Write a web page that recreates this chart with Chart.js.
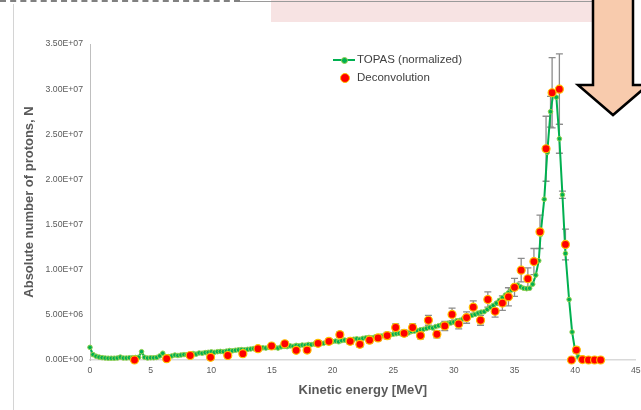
<!DOCTYPE html>
<html>
<head>
<meta charset="utf-8">
<script src="https://cdn.jsdelivr.net/npm/chart.js@4/dist/chart.umd.min.js"></script>
<style>
    body { margin: 0; background: #fff; font-family: "Liberation Sans", Arial, sans-serif; }
    #wrap { position: relative; width: 641px; height: 410px; overflow: hidden; }
    #wrap canvas { position: absolute; left: 0; top: 0; }
    .deco { position: absolute; }
    .legend { position: absolute; left: 333px; top: 50px; font-size: 11.5px; color: #404040; }
    .legend div { position: relative; height: 18px; line-height: 18px; padding-left: 24px; }
</style>
</head>
<body>
<div id="wrap">
    <!-- slide decorations around the chart -->
    <div class="deco" style="left:271px;top:0;width:322px;height:22px;background:#f7e3e3;"></div>
    <div class="deco" style="left:0;top:0;width:240px;height:0;border-top:2px dashed #808080;"></div>
    <div class="deco" style="left:240px;top:1px;width:353px;height:1px;background:#9a9a9a;"></div>
    <div class="deco" style="left:13px;top:4px;width:1px;height:406px;background:#d4d4d4;"></div>
    <svg class="deco" style="left:0;top:0;" width="641" height="410">
        <polygon points="593,-5 633,-5 633,85 648,85 613,115 578,85 593,85" fill="#f8cbad" stroke="#000" stroke-width="2.5"/>
    </svg>

    <canvas id="protonChart" width="641" height="410"></canvas>

    <div class="legend">
        <div>
            <span style="position:absolute;left:0;top:9px;width:22px;height:2px;background:#00b050;"></span>
            <span style="position:absolute;left:8px;top:7px;width:5px;height:5px;border-radius:50%;background:#00b050;border:1px solid #92d050;"></span>
            TOPAS (normalized)
        </div>
        <div>
            <span style="position:absolute;left:7px;top:5px;width:8px;height:8px;border-radius:50%;background:#ff0000;border:1px solid #ffc000;"></span>
            Deconvolution
        </div>
    </div>
</div>

<script>
// ---------------- Data ----------------
// TOPAS simulated spectrum (kinetic energy in MeV, counts in millions)
const topasEnergy = [
    0, 0.25, 0.5, 0.75, 1, 1.25, 1.5, 1.75, 2, 2.25, 2.5, 2.75, 3, 3.25, 3.5, 3.75,
    4, 4.25, 4.5, 4.75, 5, 5.25, 5.5, 5.75, 6, 6.25, 6.5, 6.75, 7, 7.25, 7.5, 7.75,
    8, 8.25, 8.5, 8.75, 9, 9.25, 9.5, 9.75, 10, 10.25, 10.5, 10.75, 11, 11.25, 11.5, 11.75,
    12, 12.25, 12.5, 12.75, 13, 13.25, 13.5, 13.75, 14, 14.25, 14.5, 14.75, 15, 15.25, 15.5, 15.75,
    16, 16.25, 16.5, 16.75, 17, 17.25, 17.5, 17.75, 18, 18.25, 18.5, 18.75, 19, 19.25, 19.5, 19.75,
    20, 20.25, 20.5, 20.75, 21, 21.25, 21.5, 21.75, 22, 22.25, 22.5, 22.75, 23, 23.25, 23.5, 23.75,
    24, 24.25, 24.5, 24.75, 25, 25.25, 25.5, 25.75, 26, 26.25, 26.5, 26.75, 27, 27.25, 27.5, 27.75,
    28, 28.25, 28.5, 28.75, 29, 29.25, 29.5, 29.75, 30, 30.25, 30.5, 30.75, 31, 31.25, 31.5, 31.75,
    32, 32.25, 32.5, 32.75, 33, 33.25, 33.5, 33.75, 34, 34.25, 34.5, 34.75, 35, 35.25, 35.5, 35.75,
    36, 36.25, 36.5, 36.75, 37, 37.15, 37.45, 37.7, 37.97, 38.2, 38.45, 38.7, 38.95, 39.2, 39.5, 39.75,
    40, 40.25, 40.5, 40.75, 41
];
const topasCountsM = [
    1.4, 0.6, 0.42, 0.32, 0.26, 0.22, 0.2, 0.2, 0.2, 0.22, 0.32, 0.22, 0.22, 0.25, 0.25, 0.28,
    0.3, 0.92, 0.3, 0.22, 0.25, 0.25, 0.28, 0.45, 0.75, 0.35, 0.38, 0.45, 0.55, 0.5, 0.55, 0.6,
    0.58, 0.6, 0.72, 0.65, 0.78, 0.75, 0.82, 0.85, 0.9, 0.85, 0.92, 0.95, 0.92, 0.98, 1.05, 1.02,
    1.08, 1.12, 1.15, 1.12, 1.18, 1.22, 1.26, 1.25, 1.3, 1.35, 1.32, 1.4, 1.45, 1.38, 1.32, 1.45,
    1.5, 1.48, 1.56, 1.52, 1.62, 1.58, 1.66, 1.64, 1.72, 1.7, 1.78, 1.82, 1.88, 1.85, 1.95, 2.0,
    2.05, 2.1, 2.02, 2.15, 2.2, 2.15, 2.25, 2.3, 2.35, 2.3, 2.4, 2.45, 2.5, 2.45, 2.55, 2.6,
    2.65, 2.7, 2.75, 2.8, 2.85, 2.9, 2.95, 3.0, 3.05, 3.0, 3.15, 3.2, 3.25, 3.35, 3.4, 3.5,
    3.6, 3.55, 3.7, 3.8, 3.9, 3.95, 4.05, 4.1, 4.2, 4.35, 4.4, 4.55, 4.7, 4.8, 4.95, 5.05,
    5.2, 5.3, 5.35, 5.6, 5.85, 6.05, 6.3, 6.6, 6.9, 7.2, 7.45, 7.75, 8.05, 8.3, 8.1, 7.95,
    7.9, 7.95, 8.4, 9.4, 11.0, 13.9, 17.8, 23.0, 27.5, 29.5, 29.1, 24.5, 18.3, 11.8, 6.7, 3.1,
    1.0, 0.35, 0.12, 0.05, 0.02
];
// error bars shown on a few TOPAS points near the peak (millions)
const topasErrorM = {37.97: 1.7, 38.7: 1.6, 38.95: 0.4};

// Deconvolution result (kinetic energy in MeV, counts and errors in millions)
const deconvEnergy = [
    3.67, 6.32, 8.26, 9.94, 11.36, 12.6, 13.85, 14.97, 16.06, 17.0, 17.9, 18.8, 19.7,
    20.6, 21.45, 22.25, 23.05, 23.75, 24.5, 25.2, 25.9, 26.6, 27.25, 27.9, 28.6, 29.25,
    29.85, 30.4, 31.05, 31.6, 32.2, 32.8, 33.4, 34.0, 34.5, 35.0, 35.55, 36.1, 36.6,
    37.1, 37.6, 38.1, 38.7, 39.2, 39.7, 40.1, 40.6, 41.1, 41.6, 42.1
];
const deconvCountsM = [
    0.0, 0.15, 0.5, 0.3, 0.5, 0.7, 1.25, 1.55, 1.8, 1.07, 1.1, 1.85, 2.07,
    2.8, 2.07, 1.74, 2.2, 2.44, 2.7, 3.6, 2.96, 3.6, 2.7, 4.4, 2.85, 3.77,
    5.05, 4.0, 4.7, 5.85, 4.4, 6.7, 5.4, 6.3, 7.0, 8.05, 9.95, 9.0, 10.9,
    14.2, 23.4, 29.6, 30.0, 12.8, 0.0, 1.1, 0.05, 0.0, 0.0, 0.0
];
const deconvErrorM = [
    0, 0, 0.1, 0.1, 0.1, 0.15, 0.2, 0.2, 0.2, 0.2, 0.2, 0.25, 0.25,
    0.3, 0.3, 0.3, 0.3, 0.3, 0.35, 0.4, 0.35, 0.4, 0.35, 0.55, 0.4, 0.5,
    0.7, 0.55, 0.63, 0.7, 0.55, 0.85, 0.65, 0.8, 1.0, 1.0, 1.3, 1.2, 1.45,
    1.85, 3.6, 3.9, 3.9, 1.7, 0.1, 0.3, 0, 0, 0, 0
];

// axis ticks
const xTicks = [0, 5, 10, 15, 20, 25, 30, 35, 40, 45];
const yTicks = [0, 5e6, 1e7, 1.5e7, 2e7, 2.5e7, 3e7, 3.5e7];

// ---------------- Helpers ----------------
function sciLabel(v) {
    let [m, e] = Number(v).toExponential(2).split("e");
    let sign = e[0] === "-" ? "-" : "+";
    let digits = e.replace(/[+-]/, "").padStart(2, "0");
    return `${m}E${sign}${digits}`;
}

const topasPoints = topasEnergy.map((e, i) => ({ x: e, y: topasCountsM[i] * 1e6 }));
const topasErrors = topasEnergy.map(e => (topasErrorM[e] || 0) * 1e6);
const deconvPoints = deconvEnergy.map((e, i) => ({ x: e, y: deconvCountsM[i] * 1e6 }));
const deconvErrors = deconvErrorM.map(v => v * 1e6);

// draws vertical error bars with caps, behind the markers
const errorBarPlugin = {
    id: "errorBars",
    beforeDatasetsDraw(chart) {
        const ctx = chart.ctx;
        const yScale = chart.scales.y;
        ctx.save();
        ctx.strokeStyle = "#8c8c8c";
        ctx.lineWidth = 1.3;
        chart.data.datasets.forEach((ds, i) => {
            if (!ds.errors) return;
            const meta = chart.getDatasetMeta(i);
            meta.data.forEach((pt, j) => {
                const err = ds.errors[j];
                if (!err) return;
                const v = ds.data[j].y;
                const top = yScale.getPixelForValue(v + err);
                const bot = yScale.getPixelForValue(Math.max(v - err, 0));
                ctx.beginPath();
                ctx.moveTo(pt.x, top); ctx.lineTo(pt.x, bot);
                ctx.moveTo(pt.x - 3.5, top); ctx.lineTo(pt.x + 3.5, top);
                ctx.moveTo(pt.x - 3.5, bot); ctx.lineTo(pt.x + 3.5, bot);
                ctx.stroke();
            });
        });
        ctx.restore();
    }
};

// ---------------- Chart ----------------
const ctx = document.getElementById("protonChart").getContext("2d");

new Chart(ctx, {
    type: "scatter",
    data: {
        datasets: [
            {
                label: "TOPAS (normalized)",
                data: topasPoints,
                errors: topasErrors,
                showLine: true,
                borderColor: "#00b050",
                borderWidth: 2,
                pointRadius: 2.3,
                pointBackgroundColor: "#00b050",
                pointBorderColor: "#92d050",
                pointBorderWidth: 1,
                clip: false,
                order: 2
            },
            {
                label: "Deconvolution",
                data: deconvPoints,
                errors: deconvErrors,
                showLine: false,
                pointRadius: 4,
                pointBackgroundColor: "#ff0000",
                pointBorderColor: "#ffc000",
                pointBorderWidth: 1.2,
                clip: false,
                order: 1
            }
        ]
    },
    options: {
        responsive: false,
        animation: false,
        layout: { padding: { top: 44, right: 3, left: 0, bottom: 0 } },
        plugins: {
            legend: { display: false },
            tooltip: { enabled: false }
        },
        scales: {
            x: {
                type: "linear",
                min: 0,
                max: 45,
                afterBuildTicks: s => { s.ticks = xTicks.map(v => ({ value: v })); },
                afterFit: s => { s.height = 50; s.paddingLeft = 0; s.paddingRight = 0; },
                grid: { display: false, drawTicks: false },
                border: { display: true, color: "#d9d9d9", width: 1.5 },
                ticks: {
                    padding: 5,
                    color: "#595959",
                    font: { family: "'Liberation Sans', Arial, sans-serif", size: 8.7 }
                },
                title: {
                    display: true,
                    text: "Kinetic energy [MeV]",
                    color: "#595959",
                    padding: { top: 0, bottom: 12 },
                    font: { family: "'Liberation Sans', Arial, sans-serif", size: 13, weight: "bold" }
                }
            },
            y: {
                min: 0,
                max: 3.5e7,
                afterBuildTicks: s => { s.ticks = yTicks.map(v => ({ value: v })); },
                afterFit: s => { s.width = 90; s.paddingTop = 0; s.paddingBottom = 0; },
                grid: { display: false, drawTicks: false },
                border: { display: true, color: "#bfbfbf", width: 1 },
                ticks: {
                    padding: 7,
                    color: "#595959",
                    font: { family: "'Liberation Sans', Arial, sans-serif", size: 8.7 },
                    callback: v => sciLabel(v)
                },
                title: {
                    display: true,
                    text: "Absolute number of protons, N",
                    color: "#595959",
                    padding: { top: 22, bottom: 0 },
                    font: { family: "'Liberation Sans', Arial, sans-serif", size: 13, weight: "bold" }
                }
            }
        }
    },
    plugins: [errorBarPlugin]
});
</script>
</body>
</html>
